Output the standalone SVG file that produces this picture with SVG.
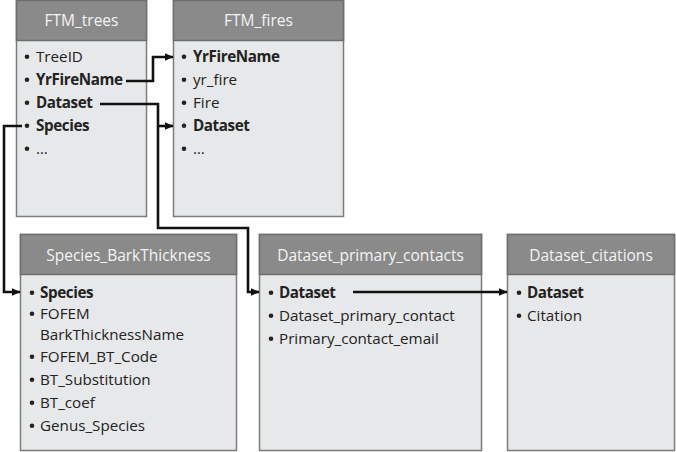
<svg xmlns="http://www.w3.org/2000/svg" width="676" height="452" viewBox="0 0 676 452">
<defs>
<marker id="arr" markerUnits="userSpaceOnUse" markerWidth="9" markerHeight="8" refX="8.5" refY="4" orient="auto">
<path d="M0,0 L9,4 L0,8 z" fill="#111"/>
</marker>
<style>
.body{fill:#e7e8e9;stroke:#7d7d7d;stroke-width:1.5}
.head{fill:#8a8a8a;stroke:#6e6e6e;stroke-width:1.5}
.ht{font-family:"Open Sans","Noto Sans",sans-serif;font-size:15.5px;fill:#f4f4f4;text-anchor:middle}
.it{font-family:"Open Sans","Noto Sans",sans-serif;font-size:15.2px;fill:#222}
.b{font-weight:bold;letter-spacing:-0.4px}
.dot{fill:#222}
.con{fill:none;stroke:#111;stroke-width:2.6}
</style>
</defs>
<rect width="676" height="452" fill="#fff"/>

<g id="FTM_trees">
<rect class="body" x="16.5" y="0.5" width="130" height="216"/>
<rect class="head" x="16.5" y="0.5" width="130" height="40"/>
<text class="ht" x="81.5" y="26">FTM_trees</text>
<g class="dot"><circle cx="27" cy="56.7" r="2.3"/><circle cx="27" cy="79.7" r="2.3"/><circle cx="27" cy="102.7" r="2.3"/><circle cx="27" cy="125.7" r="2.3"/><circle cx="27" cy="148.7" r="2.3"/></g>
<text class="it" x="36" y="62">TreeID</text>
<text class="it b" x="36" y="85">YrFireName</text>
<text class="it b" x="36" y="108">Dataset</text>
<text class="it b" x="36" y="131">Species</text>
<text class="it" x="36" y="154">…</text>
</g>

<g id="FTM_fires">
<rect class="body" x="173.5" y="0.5" width="170" height="216"/>
<rect class="head" x="173.5" y="0.5" width="170" height="40"/>
<text class="ht" x="258.5" y="26">FTM_fires</text>
<g class="dot"><circle cx="184" cy="56.7" r="2.3"/><circle cx="184" cy="79.7" r="2.3"/><circle cx="184" cy="102.7" r="2.3"/><circle cx="184" cy="125.7" r="2.3"/><circle cx="184" cy="148.7" r="2.3"/></g>
<text class="it b" x="193" y="62">YrFireName</text>
<text class="it" x="193" y="85">yr_fire</text>
<text class="it" x="193" y="108">Fire</text>
<text class="it b" x="193" y="131">Dataset</text>
<text class="it" x="193" y="154">…</text>
</g>

<g id="Species_BarkThickness">
<rect class="body" x="20.5" y="234.5" width="216" height="216"/>
<rect class="head" x="20.5" y="234.5" width="216" height="40"/>
<text class="ht" x="128.5" y="261">Species_BarkThickness</text>
<g class="dot"><circle cx="32" cy="292.7" r="2.3"/><circle cx="32" cy="313.7" r="2.3"/><circle cx="32" cy="356.7" r="2.3"/><circle cx="32" cy="379.7" r="2.3"/><circle cx="32" cy="402.7" r="2.3"/><circle cx="32" cy="425.7" r="2.3"/></g>
<text class="it b" x="40" y="298">Species</text>
<text class="it" x="40" y="319">FOFEM</text>
<text class="it" x="40" y="340">BarkThicknessName</text>
<text class="it" x="40" y="362">FOFEM_BT_Code</text>
<text class="it" x="40" y="385">BT_Substitution</text>
<text class="it" x="40" y="408">BT_coef</text>
<text class="it" x="40" y="431">Genus_Species</text>
</g>

<g id="Dataset_primary_contacts">
<rect class="body" x="259.5" y="234.5" width="222" height="216"/>
<rect class="head" x="259.5" y="234.5" width="222" height="40"/>
<text class="ht" x="370.5" y="261">Dataset_primary_contacts</text>
<g class="dot"><circle cx="271" cy="292.7" r="2.3"/><circle cx="271" cy="315.7" r="2.3"/><circle cx="271" cy="338.7" r="2.3"/></g>
<text class="it b" x="279" y="298">Dataset</text>
<text class="it" x="279" y="321">Dataset_primary_contact</text>
<text class="it" x="279" y="344">Primary_contact_email</text>
</g>

<g id="Dataset_citations">
<rect class="body" x="507.5" y="234.5" width="167" height="216"/>
<rect class="head" x="507.5" y="234.5" width="167" height="40"/>
<text class="ht" x="591" y="261">Dataset_citations</text>
<g class="dot"><circle cx="519" cy="292.7" r="2.3"/><circle cx="519" cy="315.7" r="2.3"/></g>
<text class="it b" x="527" y="298">Dataset</text>
<text class="it" x="527" y="321">Citation</text>
</g>

<g id="connectors">
<path class="con" d="M126,81 H153 V57 H173" marker-end="url(#arr)"/>
<path class="con" d="M100,104 H158 V228 H248 V292 H259" marker-end="url(#arr)"/>
<path class="con" d="M158,126 H173" marker-end="url(#arr)"/>
<path class="con" d="M22,126 H4 V292 H20" marker-end="url(#arr)"/>
<path class="con" d="M353,292 H507" marker-end="url(#arr)"/>
</g>
</svg>
